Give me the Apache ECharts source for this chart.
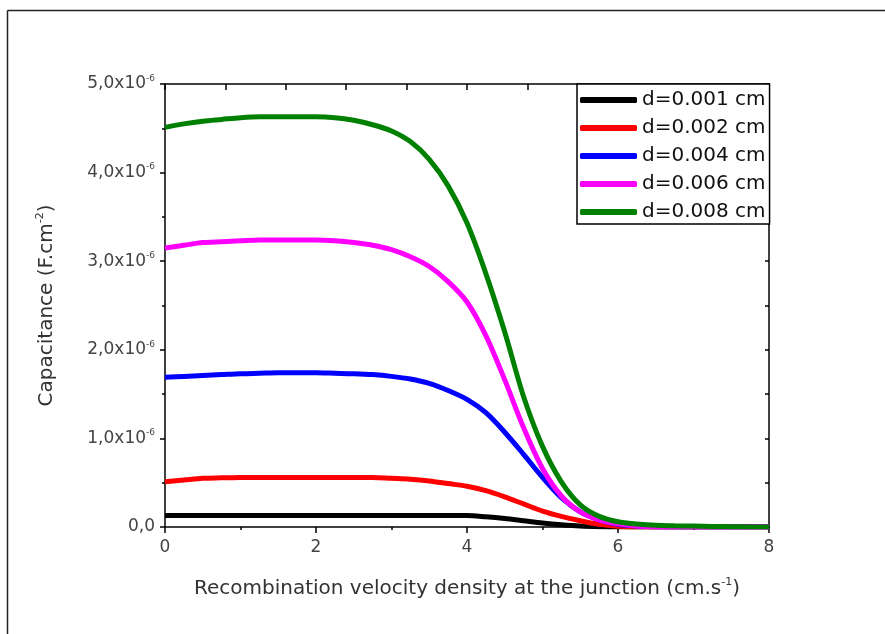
<!DOCTYPE html>
<html>
<head>
<meta charset="utf-8">
<script src="https://cdn.jsdelivr.net/npm/echarts@6/dist/echarts.min.js"></script>
<style>
  html, body { margin: 0; padding: 0; background: #fff; }
</style>
</head>
<body>
<div id="chart" style="width: 885px;height:634px;"></div>
<script>
// recombination velocity (x axis), step 0.25
var xs = [0, 0.25, 0.5, 0.75, 1, 1.25, 1.5, 1.75, 2, 2.25, 2.5, 2.75, 3, 3.25, 3.5, 3.75,
          4, 4.25, 4.5, 4.75, 5, 5.25, 5.5, 5.75, 6, 6.25, 6.5, 6.75, 7, 7.25, 7.5, 7.75, 8];
// capacitance, in units of 1e-6 F.cm-2
var d001 = [0.13, 0.13, 0.13, 0.13, 0.13, 0.13, 0.13, 0.13, 0.13, 0.13, 0.13, 0.13, 0.13, 0.13, 0.13, 0.13,
            0.13, 0.115, 0.095, 0.07, 0.045, 0.025, 0.01, 0.003, 0, 0, 0, 0, 0, 0, 0, 0, 0];
var d002 = [0.51, 0.53, 0.55, 0.555, 0.56, 0.56, 0.56, 0.56, 0.56, 0.56, 0.56, 0.56, 0.55, 0.54, 0.52, 0.49,
            0.46, 0.41, 0.34, 0.26, 0.18, 0.12, 0.07, 0.03, 0.008, 0, 0, 0, 0, 0, 0, 0, 0];
var d004 = [1.69, 1.70, 1.71, 1.72, 1.73, 1.735, 1.74, 1.74, 1.74, 1.735, 1.73, 1.72, 1.70, 1.67, 1.62, 1.54,
            1.44, 1.29, 1.07, 0.82, 0.56, 0.33, 0.17, 0.08, 0.03, 0.01, 0.003, 0, 0, 0, 0, 0, 0];
var d006 = [3.15, 3.18, 3.21, 3.22, 3.23, 3.24, 3.24, 3.24, 3.24, 3.23, 3.21, 3.18, 3.13, 3.05, 2.94, 2.77,
            2.54, 2.16, 1.66, 1.12, 0.66, 0.35, 0.17, 0.08, 0.035, 0.01, 0.003, 0, 0, 0, 0, 0, 0];
var d008 = [4.51, 4.55, 4.58, 4.60, 4.62, 4.63, 4.63, 4.63, 4.63, 4.62, 4.59, 4.54, 4.47, 4.35, 4.15, 3.85,
            3.43, 2.86, 2.2, 1.47, 0.91, 0.51, 0.25, 0.12, 0.06, 0.035, 0.02, 0.014, 0.01, 0.006, 0.003, 0.001, 0];
var names = ['d=0.001 cm', 'd=0.002 cm', 'd=0.004 cm', 'd=0.006 cm', 'd=0.008 cm'];
var colors = ['#000000', '#ff0000', '#0000ff', '#ff00ff', '#008000'];

var font = 'DejaVu Sans, Liberation Sans, sans-serif';

function pairs(ys) {
  return xs.map(function (x, i) { return [x, ys[i]]; });
}

var myChart = echarts.init(document.getElementById('chart'));

var allSeries = [d001, d002, d004, d006, d008].map(function (ys, i) {
  return {
    name: names[i],
    type: 'line',
    data: pairs(ys),
    smooth: 0.3,
    showSymbol: false,
    symbol: 'none',
    lineStyle: { color: colors[i], width: 5 },
    itemStyle: { color: colors[i] },
    z: 3 + i
  };
});

var option = {
  animation: false,
  backgroundColor: '#fff',
  textStyle: { fontFamily: font },
  grid: { left: 165, right: 116, top: 84, bottom: 107 },
  legend: {
    orient: 'vertical',
    left: 577,
    top: 84,
    padding: [5, 4, 1, 3],
    itemGap: 6,
    itemWidth: 57,
    itemHeight: 6,
    icon: 'roundRect',
    borderColor: '#000',
    borderWidth: 1.5,
    backgroundColor: '#fff',
    textStyle: { fontFamily: font, fontSize: 20, lineHeight: 22, color: '#111' },
    data: names
  },
  xAxis: [
    {
      type: 'value',
      min: 0,
      max: 8,
      interval: 2,
      position: 'bottom',
      name: '{n|Recombination velocity density at the junction (cm.s}{s|-1}{n|)}',
      nameLocation: 'middle',
      nameGap: 50,
      nameTextStyle: {
        rich: {
          n: { fontFamily: font, fontSize: 20, lineHeight: 24, color: '#333' },
          s: { fontFamily: font, fontSize: 11, lineHeight: 11, verticalAlign: 'top', color: '#333' }
        }
      },
      axisLine: { onZero: false, lineStyle: { color: '#000', width: 1.5 } },
      axisTick: { inside: false, length: 6, lineStyle: { color: '#000', width: 1.5 } },
      minorTick: { show: true, splitNumber: 2, length: 3, lineStyle: { color: '#000', width: 1.5 } },
      axisLabel: { fontFamily: font, fontSize: 17, color: '#444', margin: 12 },
      splitLine: { show: false }
    },
    {
      type: 'value',
      min: 0,
      max: 10,
      interval: 1,
      position: 'top',
      axisLine: { onZero: false, lineStyle: { color: '#000', width: 1.5 } },
      axisTick: { inside: true, length: 6, lineStyle: { color: '#000', width: 1.5 } },
      axisLabel: { show: false },
      splitLine: { show: false }
    }
  ],
  yAxis: [
    {
      type: 'value',
      min: 0,
      max: 5,
      interval: 1,
      position: 'left',
      name: '{n|Capacitance (F.cm}{s|-2}{n|)}',
      nameLocation: 'middle',
      nameGap: 106,
      nameTextStyle: {
        rich: {
          n: { fontFamily: font, fontSize: 20, lineHeight: 24, color: '#333' },
          s: { fontFamily: font, fontSize: 11, lineHeight: 11, verticalAlign: 'top', color: '#333' }
        }
      },
      axisLine: { onZero: false, lineStyle: { color: '#000', width: 1.5 } },
      axisTick: { inside: false, length: 5, lineStyle: { color: '#000', width: 1.5 } },
      minorTick: { show: true, splitNumber: 2, length: 3, lineStyle: { color: '#000', width: 1.5 } },
      axisLabel: {
        margin: 10,
        formatter: function (v) {
          if (v === 0) return '{a|0,0}';
          return '{a|' + v.toFixed(1).replace('.', ',') + 'x10}{s|-6}';
        },
        rich: {
          a: { fontFamily: font, fontSize: 17, lineHeight: 20, color: '#444' },
          s: { fontFamily: font, fontSize: 9, lineHeight: 9, verticalAlign: 'top', color: '#444' }
        }
      },
      splitLine: { show: false }
    },
    {
      type: 'value',
      min: 0,
      max: 5,
      interval: 0.5,
      position: 'right',
      axisLine: { onZero: false, lineStyle: { color: '#000', width: 1.5 } },
      axisTick: { inside: true, length: 4, lineStyle: { color: '#000', width: 1.5 } },
      axisLabel: { show: false },
      splitLine: { show: false }
    }
  ],
  graphic: [
    { type: 'line', shape: { x1: 7.5, y1: 10.5, x2: 885, y2: 10.5 }, style: { stroke: '#222', lineWidth: 1.5 } },
    { type: 'line', shape: { x1: 7.5, y1: 10.5, x2: 7.5, y2: 634 }, style: { stroke: '#222', lineWidth: 1.5 } }
  ],
  series: allSeries
};

myChart.setOption(option);
</script>
</body>
</html>
